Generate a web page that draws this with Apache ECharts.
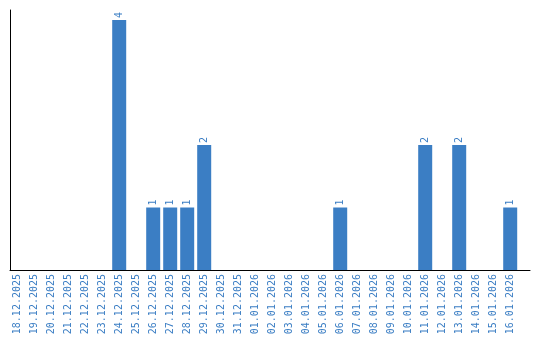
<!DOCTYPE html>
<html>
<head>
<meta charset="utf-8">
<script src="https://cdn.jsdelivr.net/npm/echarts@6/dist/echarts.min.js"></script>
<style>html,body{margin:0;padding:0;background:#fff}#c{width:540px;height:340px}</style>
</head>
<body>
<div id="c"></div>
<script>
const categories = ["18.12.2025","19.12.2025","20.12.2025","21.12.2025","22.12.2025","23.12.2025","24.12.2025","25.12.2025","26.12.2025","27.12.2025","28.12.2025","29.12.2025","30.12.2025","31.12.2025","01.01.2026","02.01.2026","03.01.2026","04.01.2026","05.01.2026","06.01.2026","07.01.2026","08.01.2026","09.01.2026","10.01.2026","11.01.2026","12.01.2026","13.01.2026","14.01.2026","15.01.2026","16.01.2026"];
const counts = [0,0,0,0,0,0,4,0,1,1,1,2,0,0,0,0,0,0,0,1,0,0,0,0,2,0,2,0,0,1];
const yMax = 4.16;

const blue = '#3b7ec4';
const font = 'DejaVu Sans Mono';
const chart = echarts.init(document.getElementById('c'), null, {renderer: 'canvas'});
chart.setOption({
  animation: false,
  grid: [
    {left: 8.7, top: 10, width: 510, height: 260},
    {left: 10, top: 10, width: 520, height: 260}
  ],
  xAxis: [
    {type: 'category', gridIndex: 0, data: categories,
     axisLine: {show: false}, axisTick: {show: false},
     axisLabel: {interval: 0, rotate: 90, color: blue, fontFamily: font, fontSize: 10, margin: 4}},
    {type: 'value', gridIndex: 1, min: 0, max: 1,
     axisLine: {show: true, lineStyle: {color: '#000', width: 1}}, axisTick: {show: false},
     axisLabel: {show: false}, splitLine: {show: false}}
  ],
  yAxis: [
    {type: 'value', gridIndex: 0, min: 0, max: yMax,
     axisLine: {show: false}, axisTick: {show: false}, axisLabel: {show: false}, splitLine: {show: false}},
    {type: 'value', gridIndex: 1, min: 0, max: 1,
     axisLine: {show: true, lineStyle: {color: '#000', width: 1}}, axisTick: {show: false},
     axisLabel: {show: false}, splitLine: {show: false}}
  ],
  series: [{
    type: 'bar', xAxisIndex: 0, yAxisIndex: 0,
    data: counts, barWidth: 14,
    itemStyle: {color: blue},
    label: {show: true, position: 'top', rotate: 90, align: 'left', verticalAlign: 'middle',
      distance: 2, color: blue, fontFamily: font, fontSize: 10,
      formatter: p => p.value ? String(p.value) : ''}
  }]
});
</script>
</body>
</html>
